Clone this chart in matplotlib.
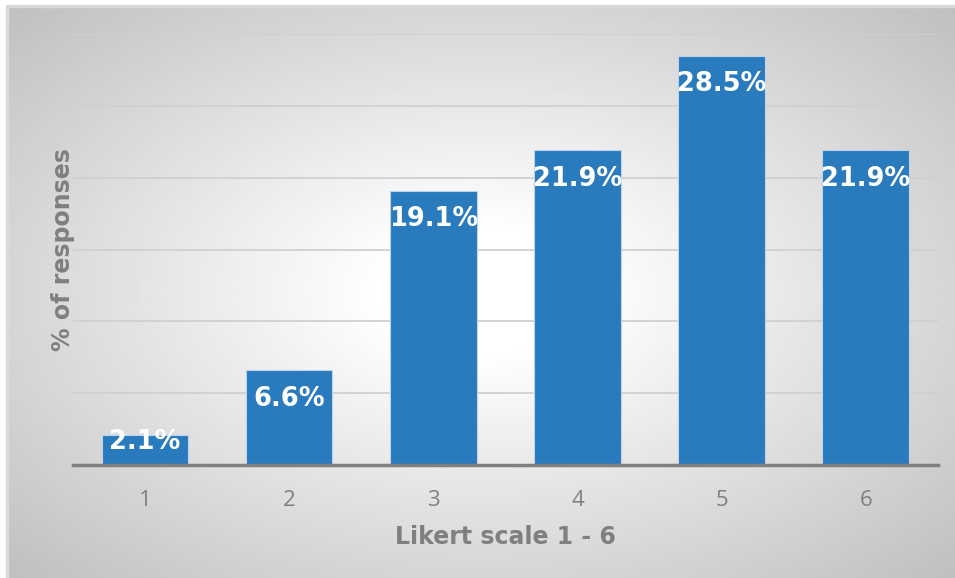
import numpy as np
import matplotlib
matplotlib.use("Agg")
import matplotlib.pyplot as plt

# --- Data ---
categories = ["1", "2", "3", "4", "5", "6"]
percent = [2.1, 6.6, 19.1, 21.9, 28.5, 21.9]
bar_labels = ["2.1%", "6.6%", "19.1%", "21.9%", "28.5%", "21.9%"]

BAR_COL = "#2A7BBE"
GREY = "#7f7f7f"

fig = plt.figure(figsize=(9.55, 5.78), dpi=100)

# radial gradient background (white centre, grey edges), cropped at top/left
x0, y0 = 6 / 955, 5 / 578
bg = fig.add_axes([x0, 0, 1 - x0, 1 - y0], zorder=-1)
xx, yy = np.meshgrid(np.linspace(0, 1, 475), np.linspace(0, 1, 287))
d = np.sqrt(((xx - 0.5) / 0.5) ** 2 + ((yy - 0.5) / 0.5) ** 2) / np.sqrt(2)
t = np.clip((d - 0.15) / 0.85, 0, 1)
shade = 1.0 - 0.25 * t
bg.imshow(shade, cmap="gray", vmin=0, vmax=1, extent=[0, 1, 0, 1],
          aspect="auto", interpolation="bilinear")
bg.plot([0.001, 0.001, 1], [0, 0.998, 0.998], color="#dadada", lw=2.5,
        transform=bg.transAxes, clip_on=False)
bg.set_xlim(0, 1)
bg.set_ylim(0, 1)
bg.axis("off")

ax = fig.add_axes([0.0764, 0.1955, 0.9056, 0.7455])
ax.set_facecolor("none")
x = np.arange(1, len(categories) + 1)
ax.bar(x, percent, width=0.6, color=BAR_COL, edgecolor="#bcd3ea",
       linewidth=0.8, zorder=3)

for xi, v, lab in zip(x, percent, bar_labels):
    ax.text(xi, max(v - 2.0, 1.6), lab, ha="center", va="center",
            color="white", fontsize=18.5, fontweight="bold",
            family="DejaVu Sans", zorder=4)

ax.set_xlim(0.5, 6.5)
ax.set_ylim(0, 30)
ax.set_yticks(np.arange(0, 31, 5))
ax.set_yticklabels([])
ax.tick_params(axis="y", length=0)
ax.grid(axis="y", color="#d0d0d0", lw=1.3, zorder=0)
ax.set_xticks(x)
ax.set_xticklabels(categories, family="Open Sans", fontsize=16, color=GREY)
ax.tick_params(axis="x", length=0, pad=18)

for s in ["top", "right", "left"]:
    ax.spines[s].set_visible(False)
ax.spines["bottom"].set_color("#808080")
ax.spines["bottom"].set_linewidth(2.5)
ax.spines["bottom"].set_zorder(5)

ax.set_xlabel("Likert scale 1 - 6", fontsize=17, fontweight="bold",
              color=GREY, labelpad=10)
ax.set_ylabel("% of responses", fontsize=17, fontweight="bold",
              color=GREY, labelpad=-5)

fig.savefig("out.png", dpi=100)
